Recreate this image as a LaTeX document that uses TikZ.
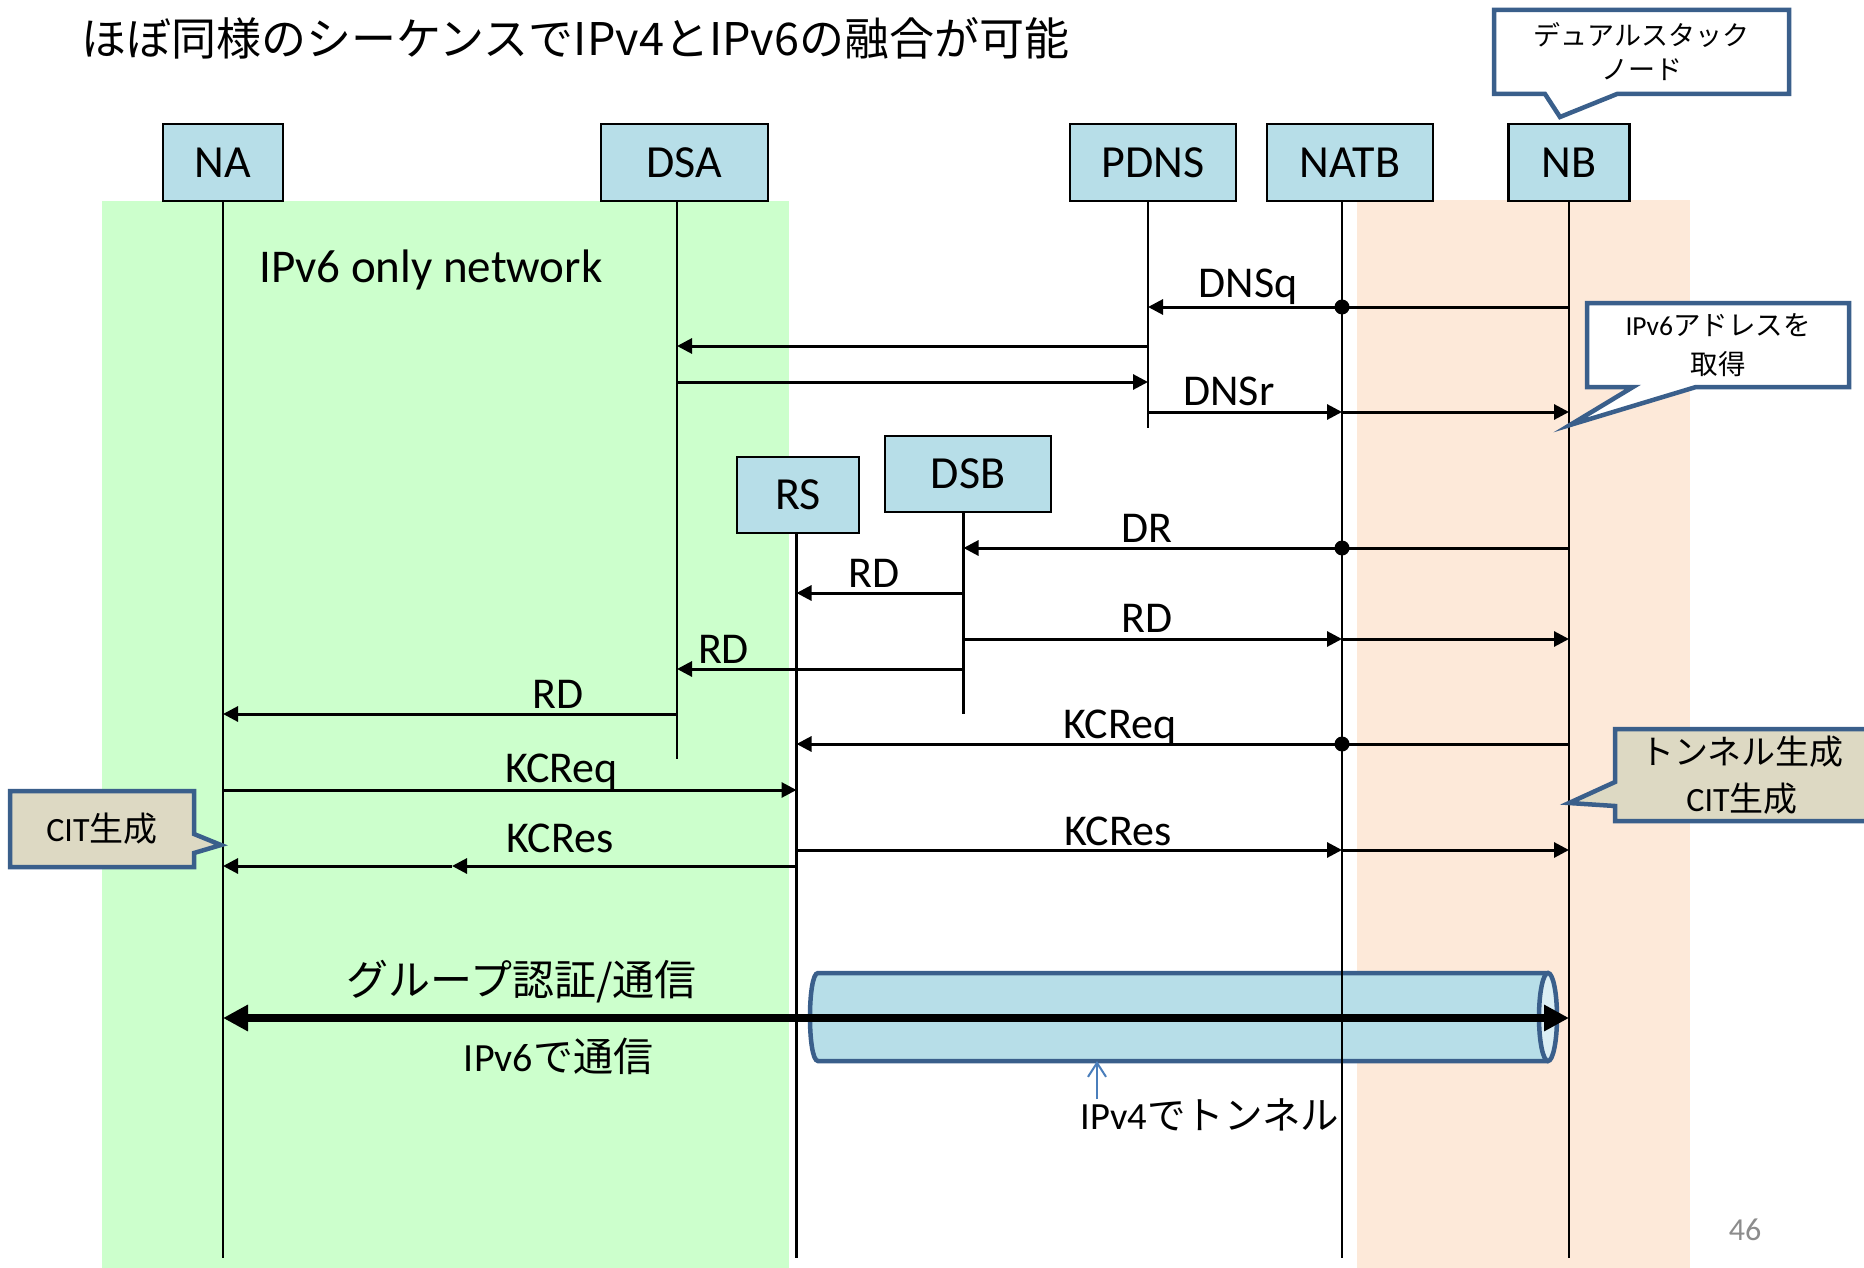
\documentclass[tikz,border=0pt]{standalone}
\usepackage{fontspec}
\setmainfont{Carlito}
\newfontfamily\jpfont{Noto Sans CJK JP}
\usetikzlibrary{arrows.meta}
\newcommand\jt[1]{{\jpfont #1}}
\newcommand\fsz[2]{\fontsize{#1}{#2}\selectfont}
\definecolor{lblue}{HTML}{B7DEE8}
\definecolor{lgreen}{HTML}{CCFFCC}
\definecolor{lpeach}{HTML}{FDE9D9}
\definecolor{ltan}{HTML}{DDD9C3}
\definecolor{cborder}{HTML}{3A5F8B}
\definecolor{tubeend}{HTML}{DBEEF4}
\definecolor{pgnum}{HTML}{8C8C8C}
\definecolor{pblue}{HTML}{4A7EBB}
\begin{document}
\begin{tikzpicture}[x=1pt,y=-1pt,
  lbox/.style={draw=black, line width=2.5pt, fill=lblue, minimum height=77pt, inner sep=0pt, font=\fsz{46}{50}},
  life/.style={line width=2.5pt, black},
  msg/.style={line width=3pt, -{Triangle[length=15pt,width=15pt]}},
  mlab/.style={font=\fsz{44}{48}, inner sep=0pt, anchor=base},
  callout/.style={draw=cborder, line width=4.5pt, line join=miter},
  ctext/.style={align=center, inner sep=0pt},
  bigarrow/.style={line width=8pt, {Triangle[length=25pt,width=25pt]}-{Triangle[length=25pt,width=25pt]}}
]
\clip (0,0) rectangle (1864,1268);
\fill[white] (0,0) rectangle (1864,1268);
% backgrounds
\fill[lgreen] (102,201) rectangle (789,1268);
\fill[lpeach] (1357,200) rectangle (1690,1268);
% title
\node[anchor=base west, inner sep=0pt, font=\jpfont\fsz{45}{50}] (title) at (81,56) {ほぼ同様のシーケンスでIPv4とIPv6の融合が可能};
\node[anchor=base west, inner sep=0pt, font=\fsz{47}{50}] (netlab) at (259,283) {IPv6 only network};
% lifeline x positions
\coordinate (xNA) at (223,0);
\coordinate (xDSA) at (677,0);
\coordinate (xPDNS) at (1148,0);
\coordinate (xNATB) at (1342,0);
\coordinate (xNB) at (1569,0);
\coordinate (xRS) at (796.5,0);
\coordinate (xDSB) at (963.5,0);
% boxes
\node[lbox, minimum width=120pt] (NA) at (223,162.5) {NA};
\node[lbox, minimum width=167pt] (DSA) at (684.5,162.5) {DSA};
\node[lbox, minimum width=166pt] (PDNS) at (1153,162.5) {PDNS};
\node[lbox, minimum width=166pt] (NATB) at (1350,162.5) {NATB};
\node[lbox, minimum width=121pt] (NB) at (1569,162.5) {NB};
\node[lbox, minimum width=122pt, minimum height=76pt] (RS) at (798,495) {RS};
\node[lbox, minimum width=166pt, minimum height=76pt] (DSB) at (968,474) {DSB};
% tube
\filldraw[fill=lblue, draw=cborder, line width=4.5pt] (1548,973) -- (818,973) .. controls (807.3,973) and (807.3,1061) .. (818,1061) -- (1548,1061);
\filldraw[fill=tubeend, draw=cborder, line width=4.5pt] (1548,1017) ellipse [x radius=9, y radius=44];
\coordinate (tubebot) at (1097,1061);
% lifelines
\draw[life] (NA.south -| xNA) -- (xNA |- 0,1258);
\draw[life] (DSA.south -| xDSA) -- (xDSA |- 0,759);
\draw[life] (PDNS.south -| xPDNS) -- (xPDNS |- 0,428);
\draw[life] (NATB.south -| xNATB) -- (xNATB |- 0,1258);
\draw[life] (NB.south -| xNB) -- (xNB |- 0,1258);
\draw[life] (RS.south -| xRS) -- (xRS |- 0,1258);
\draw[life] (DSB.south -| xDSB) -- (xDSB |- 0,714);
% DNSq
\draw[msg] (xNB |- 0,307) -- (xPDNS |- 0,307);
\fill (xNATB |- 0,307) circle (7.5);
\node[mlab] (l1) at (1248,298) {DNSq};
% PDNS -> DSA, DSA -> PDNS
\draw[msg] (xPDNS |- 0,346) -- (xDSA |- 0,346);
\draw[msg] (xDSA |- 0,382) -- (xPDNS |- 0,382);
% DNSr
\draw[msg] (xPDNS |- 0,412) -- (xNATB |- 0,412);
\draw[msg] (xNATB |- 0,412) -- (xNB |- 0,412);
\node[mlab] (l2) at (1229,405) {DNSr};
% DR
\draw[msg] (xNB |- 0,548) -- (xDSB |- 0,548);
\fill (xNATB |- 0,548) circle (7.5);
\node[mlab] (l3) at (1147,542) {DR};
% RD DSB -> RS
\draw[msg] (xDSB |- 0,593) -- (xRS |- 0,593);
\node[mlab] (l4) at (874,587) {RD};
% RD DSB -> NB
\draw[msg] (xDSB |- 0,639) -- (xNATB |- 0,639);
\draw[msg] (xNATB |- 0,639) -- (xNB |- 0,639);
\node[mlab] (l5) at (1147,632) {RD};
% RD DSB -> DSA
\draw[msg] (xDSB |- 0,669) -- (xDSA |- 0,669);
\node[mlab] (l6) at (723.5,663) {RD};
% RD DSA -> NA
\draw[msg] (xDSA |- 0,714) -- (xNA |- 0,714);
\node[mlab] (l7) at (558,708) {RD};
% KCReq NB -> RS
\draw[msg] (xNB |- 0,744) -- (xRS |- 0,744);
\fill (xNATB |- 0,744) circle (7.5);
\node[mlab] (l8) at (1120,738) {KCReq};
% KCReq NA -> RS
\draw[msg] (xNA |- 0,790) -- (xRS |- 0,790);
\node[mlab] (l9) at (561.5,782) {KCReq};
% KCRes RS -> NB
\draw[msg] (xRS |- 0,850) -- (xNATB |- 0,850);
\draw[msg] (xNATB |- 0,850) -- (xNB |- 0,850);
\node[mlab] (l10) at (1118,845) {KCRes};
% KCRes RS -> NA
\coordinate (kcmid) at (452,866);
\draw[msg] (xRS |- 0,866) -- (kcmid);
\draw[msg] (kcmid) -- (xNA |- 0,866);
\node[mlab] (l11) at (560,852) {KCRes};
% big arrow
\draw[bigarrow] (xNA |- 0,1018) -- (xNB |- 0,1018);
\node[anchor=base, inner sep=0pt, font=\jpfont\fsz{42}{44}] (grp) at (521.5,995) {グループ認証/通信};
\node[anchor=base, inner sep=0pt, font=\fsz{40}{44}] (v6) at (558.5,1071) {IPv6\jt{で通信}};
% tunnel label
\node[anchor=base, inner sep=0pt, font=\fsz{38.5}{40}] (tunlab) at (1210,1129) {IPv4\jt{でトンネル}};
\draw[pblue, line width=2pt, -{Straight Barb[length=14pt,width=18pt]}] (tubebot |- 0,1099) -- (tubebot);
% page number
\node[anchor=base, inner sep=0pt, font=\fsz{32}{34}, text=pgnum] (pg) at (1745,1240) {46};
% callouts
\filldraw[callout, fill=white] (1494,10) -- (1789,10) -- (1789,94) -- (1617,94) -- (1560,117) -- (1545,94) -- (1494,94) -- cycle;
\node[ctext, font=\jpfont\fsz{27}{34}] (cA) at (1641.5,52) {デュアルスタック\\ノード};
\filldraw[callout, fill=white] (1587,303) -- (1849,303) -- (1849,387) -- (1696,387) -- (1570,425) -- (1633,387) -- (1587,387) -- cycle;
\node[ctext, font=\fsz{27.5}{38.5}] (cB) at (1718,345) {IPv6\jt{アドレスを}\\\jt{取得}};
\filldraw[callout, fill=ltan] (1615,729) -- (1880,729) -- (1880,821) -- (1615,821) -- (1615,806) -- (1569,803) -- (1615,782) -- cycle;
\node[ctext, font=\fsz{34}{47}] (cC) at (1742,775) {\jt{トンネル生成}\\CIT\jt{生成}};
\filldraw[callout, fill=ltan] (10,791) -- (194,791) -- (194,834) -- (221,845) -- (194,853) -- (194,867) -- (10,867) -- cycle;
\node[ctext, font=\fsz{34}{40}] (cD) at (102,829) {CIT\jt{生成}};
\end{tikzpicture}
\end{document}
